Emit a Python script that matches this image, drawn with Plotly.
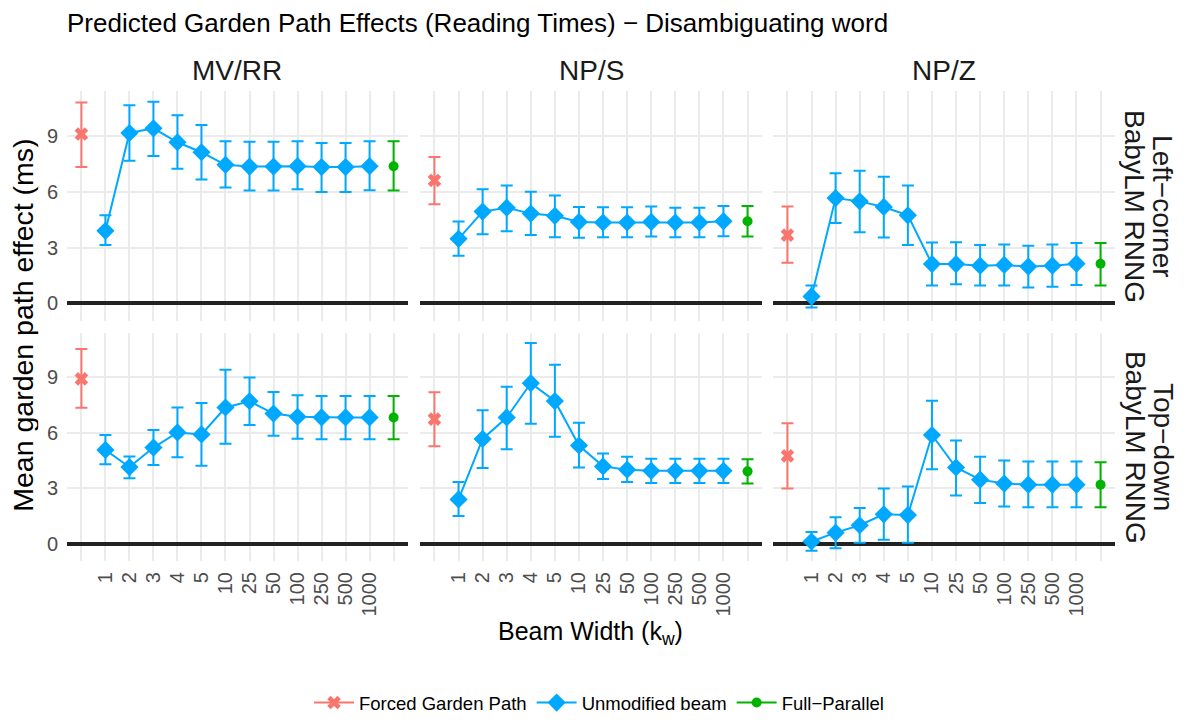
import plotly.graph_objects as go

# ---------------- data ----------------
beam_widths = ["1", "2", "3", "4", "5", "10", "25", "50", "100", "250", "500", "1000"]
x_categories = ["Forced"] + beam_widths + ["Full"]
x_ticktext = [""] + beam_widths + [""]
col_labels = ["MV/RR", "NP/S", "NP/Z"]
row_labels = [["Left−corner", "BabyLM RNNG"], ["Top−down", "BabyLM RNNG"]]
series_names = ["Forced Garden Path", "Unmodified beam", "Full−Parallel"]

# Unmodified beam: mean / lower / upper  (row: Left-corner = lc, Top-down = td)
lc_mvrr_mean = [3.90, 9.18, 9.43, 8.68, 8.14, 7.46, 7.37, 7.37, 7.39, 7.34, 7.34, 7.39]
lc_mvrr_lo = [3.13, 7.68, 7.94, 7.25, 6.67, 6.24, 6.08, 6.08, 6.14, 6.00, 6.00, 6.09]
lc_mvrr_hi = [4.74, 10.68, 10.86, 10.14, 9.61, 8.73, 8.70, 8.70, 8.73, 8.64, 8.64, 8.73]

lc_nps_mean = [3.47, 4.94, 5.15, 4.83, 4.71, 4.38, 4.35, 4.35, 4.38, 4.35, 4.35, 4.42]
lc_nps_lo = [2.56, 3.72, 3.88, 3.67, 3.56, 3.53, 3.56, 3.56, 3.60, 3.56, 3.56, 3.61]
lc_nps_hi = [4.40, 6.14, 6.35, 6.01, 5.81, 5.19, 5.17, 5.17, 5.21, 5.15, 5.15, 5.24]

lc_npz_mean = [0.36, 5.67, 5.49, 5.19, 4.74, 2.11, 2.11, 2.02, 2.06, 1.97, 2.02, 2.13]
lc_npz_lo = [-0.23, 4.33, 3.83, 3.54, 3.13, 0.95, 1.02, 0.95, 0.95, 0.84, 0.89, 0.98]
lc_npz_hi = [0.95, 7.01, 7.14, 6.82, 6.35, 3.27, 3.29, 3.13, 3.17, 3.10, 3.17, 3.24]

td_mvrr_mean = [5.07, 4.14, 5.20, 6.02, 5.91, 7.37, 7.71, 7.04, 6.87, 6.83, 6.83, 6.83]
td_mvrr_lo = [4.30, 3.53, 4.25, 4.68, 4.21, 5.41, 6.42, 5.84, 5.68, 5.65, 5.65, 5.65]
td_mvrr_hi = [5.88, 4.72, 6.15, 7.37, 7.62, 9.41, 9.00, 8.21, 8.03, 7.99, 7.99, 7.99]

td_nps_mean = [2.39, 5.67, 6.83, 8.69, 7.72, 5.31, 4.18, 4.00, 3.94, 3.94, 3.94, 3.94]
td_nps_lo = [1.49, 4.09, 5.11, 6.49, 5.79, 4.12, 3.49, 3.33, 3.28, 3.28, 3.28, 3.28]
td_nps_hi = [3.33, 7.22, 8.50, 10.86, 9.68, 6.54, 4.88, 4.70, 4.59, 4.59, 4.59, 4.59]

td_npz_mean = [0.11, 0.59, 0.99, 1.58, 1.54, 5.88, 4.12, 3.46, 3.25, 3.19, 3.19, 3.19]
td_npz_lo = [-0.39, -0.25, 0.04, 0.20, 0.04, 4.03, 2.60, 2.19, 2.01, 1.97, 1.97, 1.97]
td_npz_hi = [0.63, 1.42, 1.92, 2.98, 3.09, 7.73, 5.58, 4.70, 4.50, 4.45, 4.45, 4.45]

# Forced garden path / Full-parallel, panel order:
# LC MV/RR, LC NP/S, LC NP/Z, TD MV/RR, TD NP/S, TD NP/Z
forced_mean = [9.12, 6.62, 3.67, 8.92, 6.74, 4.75]
forced_lo = [7.34, 5.33, 2.18, 7.35, 5.27, 2.98]
forced_hi = [10.83, 7.89, 5.22, 10.54, 8.19, 6.51]

full_mean = [7.39, 4.42, 2.13, 6.83, 3.91, 3.19]
full_lo = [6.08, 3.60, 0.95, 5.65, 3.25, 1.97]
full_hi = [8.73, 5.24, 3.24, 7.99, 4.57, 4.41]

y_ticks = [0, 3, 6, 9]

beam_panels = [
    (lc_mvrr_mean, lc_mvrr_lo, lc_mvrr_hi),
    (lc_nps_mean, lc_nps_lo, lc_nps_hi),
    (lc_npz_mean, lc_npz_lo, lc_npz_hi),
    (td_mvrr_mean, td_mvrr_lo, td_mvrr_hi),
    (td_nps_mean, td_nps_lo, td_nps_hi),
    (td_npz_mean, td_npz_lo, td_npz_hi),
]

# ---------------- style ----------------
OFF = 8                      # page body margin in the browser
W, H = 1188 - OFF, 722 - OFF  # figure size so that it fits the window
RED, BLUE, GREEN = "#F8766D", "#00A9FF", "#00B300"
FONT = "Liberation Sans, Arial, Helvetica, sans-serif"
GRID = "#EBEBEB"
TICKC = "#4D4D4D"


def xp(px):
    return (px - OFF) / W


def yp(py):
    return 1 - (py - OFF) / H


col_px = [(67, 408), (420, 762), (773, 1115)]
row_px = [(92, 323), (335, 565)]

all_lo = min([min(p[1]) for p in beam_panels] + forced_lo + full_lo)
all_hi = max([max(p[2]) for p in beam_panels] + forced_hi + full_hi)
pad = 0.05 * (all_hi - all_lo)
y_range = [all_lo - pad, all_hi + pad]


def err(mean, lo, hi):
    return dict(type="data", symmetric=False,
                array=[h - m for m, h in zip(mean, hi)],
                arrayminus=[m - l for m, l in zip(mean, lo)])


fig = go.Figure()
layout = {}

for r in range(2):
    for c in range(3):
        k = r * 3 + c
        idx = k + 1
        xa = "x" if idx == 1 else f"x{idx}"
        ya = "y" if idx == 1 else f"y{idx}"
        mean, lo, hi = beam_panels[k]
        first = (k == 0)

        fig.add_trace(go.Scatter(
            x=[x_categories[0]], y=[forced_mean[k]], xaxis=xa, yaxis=ya,
            mode="lines+markers", name=series_names[0], legendgroup="forced",
            showlegend=first, legendrank=1,
            marker=dict(symbol="x", size=12, color=RED),
            line=dict(color=RED, width=2),
            error_y=dict(err([forced_mean[k]], [forced_lo[k]], [forced_hi[k]]),
                         color=RED, thickness=2, width=6),
        ))
        fig.add_trace(go.Scatter(
            x=beam_widths, y=mean, xaxis=xa, yaxis=ya,
            mode="lines+markers", name=series_names[1], legendgroup="beam",
            showlegend=first, legendrank=2,
            marker=dict(symbol="diamond", size=14, color=BLUE),
            line=dict(color=BLUE, width=2),
            error_y=dict(err(mean, lo, hi), color=BLUE, thickness=2, width=6),
        ))
        fig.add_trace(go.Scatter(
            x=[x_categories[-1]], y=[full_mean[k]], xaxis=xa, yaxis=ya,
            mode="lines+markers", name=series_names[2], legendgroup="full",
            showlegend=first, legendrank=3,
            marker=dict(symbol="circle", size=10, color=GREEN),
            line=dict(color=GREEN, width=2),
            error_y=dict(err([full_mean[k]], [full_lo[k]], [full_hi[k]]),
                         color=GREEN, thickness=2, width=6),
        ))

        x0, x1 = col_px[c]
        y0, y1 = row_px[r]
        xkey = "xaxis" if idx == 1 else f"xaxis{idx}"
        ykey = "yaxis" if idx == 1 else f"yaxis{idx}"
        layout[xkey] = dict(
            domain=[xp(x0), xp(x1)], anchor=ya,
            type="category", categoryorder="array", categoryarray=x_categories,
            range=[-0.6, len(x_categories) - 0.4],
            tickmode="array", tickvals=x_categories, ticktext=x_ticktext,
            tickangle=-90, showticklabels=(r == 1), ticks="",
            ticklabelstandoff=6,
            tickfont=dict(size=20, color=TICKC, family=FONT),
            showgrid=True, gridcolor=GRID, gridwidth=1.6,
            zeroline=False, showline=False, fixedrange=True,
        )
        layout[ykey] = dict(
            domain=[yp(y1), yp(y0)], anchor=xa,
            range=y_range, tickmode="array", tickvals=y_ticks,
            showticklabels=(c == 0), ticks="", ticklabelstandoff=8,
            tickfont=dict(size=20, color=TICKC, family=FONT),
            showgrid=True, gridcolor=GRID, gridwidth=1.6,
            zeroline=True, zerolinecolor="#222222", zerolinewidth=4,
            showline=False, fixedrange=True,
        )

annotations = []
for c, lab in enumerate(col_labels):
    x0, x1 = col_px[c]
    annotations.append(dict(
        text=lab, x=xp((x0 + x1) / 2), y=yp(71), xref="paper", yref="paper",
        xanchor="center", yanchor="middle", showarrow=False,
        font=dict(size=28, color="#1A1A1A", family=FONT)))
for r, lines in enumerate(row_labels):
    y0, y1 = row_px[r]
    for line, xc in zip(lines, [1163, 1135]):
        annotations.append(dict(
            text=line, x=xp(xc), y=yp((y0 + y1) / 2), xref="paper", yref="paper",
            xanchor="center", yanchor="middle", showarrow=False, textangle=90,
            font=dict(size=28, color="#1A1A1A", family=FONT)))
annotations.append(dict(
    text="Mean garden path effect (ms)", x=xp(23), y=yp(328),
    xref="paper", yref="paper", xanchor="center", yanchor="middle",
    showarrow=False, textangle=-90, height=30, borderpad=0,
    font=dict(size=28.5, color="black", family=FONT)))
annotations.append(dict(
    text="Beam Width (k<sub>w</sub>)", x=xp(590), y=yp(637),
    xref="paper", yref="paper", xanchor="center", yanchor="middle",
    showarrow=False, font=dict(size=25, color="black", family=FONT)))
annotations.append(dict(
    text="Predicted Garden Path Effects (Reading Times) − Disambiguating word",
    x=xp(66), y=yp(23), xref="paper", yref="paper",
    xanchor="left", yanchor="middle", showarrow=False, height=30, borderpad=0,
    font=dict(size=26, color="black", family=FONT)))

fig.update_layout(
    width=W, height=H,
    margin=dict(l=0, r=0, t=0, b=0),
    paper_bgcolor="white", plot_bgcolor="white",
    font=dict(family=FONT),
    showlegend=True,
    legend=dict(orientation="h", x=xp(599), xanchor="center", y=yp(708),
                yanchor="middle", font=dict(size=18.5, color="black", family=FONT),
                bgcolor="rgba(0,0,0,0)", itemwidth=40),
    annotations=annotations,
    **layout,
)

fig.write_html("out.html")
